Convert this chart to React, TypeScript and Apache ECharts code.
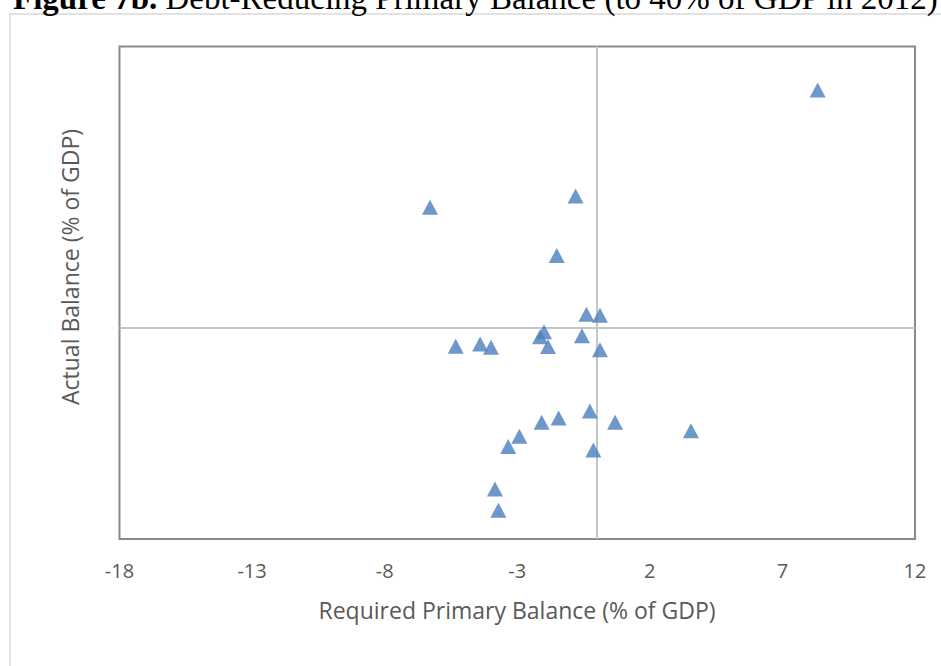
import React, { useEffect, useRef } from "react";
import * as echarts from "echarts";

// Required primary balance (% of GDP) — x values
const requiredBalance = [
  8.33, -0.8, -6.29, -1.51, -0.39, 0.12, -1.99, -2.14, -0.56, -5.32, -4.4, -3.99,
  -1.84, 0.12, -0.26, -1.44, -2.08, 0.69, 3.55, -2.92, -3.34, -0.13, -3.84, -3.71,
];
// Actual balance (% of GDP) — y values
const actualBalance = [
  6.76, 3.75, 3.43, 2.06, 0.39, 0.36, -0.11, -0.25, -0.22, -0.52, -0.46, -0.55,
  -0.53, -0.62, -2.36, -2.56, -2.68, -2.68, -2.92, -3.08, -3.37, -3.47, -4.58, -5.18,
];
const xTicks = { min: -18, max: 12, interval: 5 };
const yRange = { min: -6, max: 8 };

const titleBold = "Figure 7b.";
const titleRest = " Debt-Reducing Primary Balance (to 40% of GDP in 2012)";
const xName = "Required Primary Balance (% of GDP)";
const yName = "Actual Balance (% of GDP)";

export default function App() {
  const ref = useRef<HTMLDivElement>(null);
  useEffect(() => {
    if (!ref.current) return;
    const chart = echarts.init(ref.current, undefined, { renderer: "svg" });
    const data = requiredBalance.map((x, i) => [x, actualBalance[i]]);
    chart.setOption({
      animation: false,
      backgroundColor: "#ffffff",
      grid: {
        left: 119.5,
        right: 26,
        top: 46.5,
        bottom: 127,
        show: true,
        borderColor: "#898989",
        borderWidth: 2,
        backgroundColor: "transparent",
      },
      xAxis: {
        type: "value",
        min: xTicks.min,
        max: xTicks.max,
        interval: xTicks.interval,
        axisLine: { show: false },
        axisTick: { show: false },
        splitLine: { show: false },
        axisLabel: {
          color: "#595959",
          fontSize: 20,
          fontFamily: "Open Sans",
          margin: 21,
        },
      },
      yAxis: {
        type: "value",
        min: yRange.min,
        max: yRange.max,
        axisLine: { show: false },
        axisTick: { show: false },
        splitLine: { show: false },
        axisLabel: { show: false },
      },
      series: [
        {
          type: "scatter",
          symbol: "triangle",
          symbolSize: [16, 15],
          itemStyle: { color: "#4a7ebb" },
          data,
          z: 3,
          markLine: {
            silent: true,
            z: 1,
            symbol: ["none", "none"],
            label: { show: false },
            lineStyle: { color: "#c6c6c6", width: 2, type: "solid" },
            data: [{ xAxis: 0 }, { yAxis: 0 }],
          },
        },
      ],
      graphic: [
        {
          type: "rect",
          shape: { x: 10, y: 14, width: 1000, height: 1000 },
          style: { fill: "none", stroke: "#d9d9d9", lineWidth: 1.5 },
          silent: true,
        },
        {
          type: "text",
          x: 13,
          y: -2,
          style: {
            text: "{b|" + titleBold + "}" + titleRest,
            fontFamily: "Liberation Serif",
            fontSize: 33,
            fill: "#000000",
            verticalAlign: "middle",
            align: "left",
            rich: {
              b: { fontWeight: "bold", fontFamily: "Liberation Serif", fontSize: 33, fill: "#000000" },
            },
          },
        },
        {
          type: "text",
          x: 517,
          y: 610,
          style: {
            text: xName,
            fontFamily: "Open Sans",
            fontSize: 23,
            fill: "#595959",
            align: "center",
            verticalAlign: "middle",
          },
        },
        {
          type: "text",
          x: 70,
          y: 267,
          rotation: Math.PI / 2,
          style: {
            text: yName,
            fontFamily: "Open Sans",
            fontSize: 23,
            fill: "#595959",
            align: "center",
            verticalAlign: "middle",
          },
        },
      ],
    });
    return () => chart.dispose();
  }, []);
  return (
    <div
      ref={ref}
      style={{ position: "absolute", left: 0, top: 0, width: 941, height: 666 }}
    />
  );
}
